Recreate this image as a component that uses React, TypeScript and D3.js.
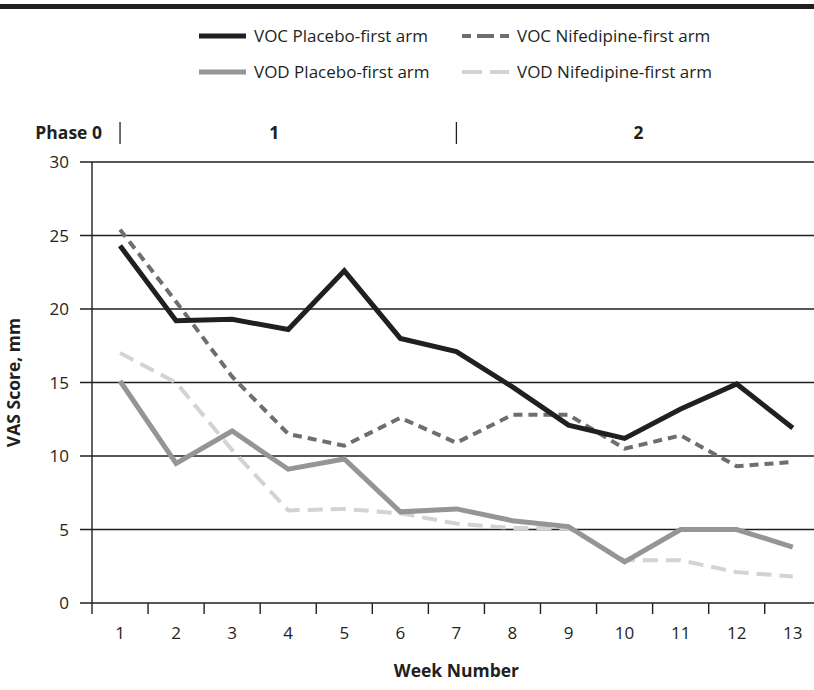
import React from 'react';
import * as d3 from 'd3';

const weeks = ['1', '2', '3', '4', '5', '6', '7', '8', '9', '10', '11', '12', '13'];
const vocPlacebo = [24.3, 19.2, 19.3, 18.6, 22.6, 18.0, 17.1, 14.7, 12.1, 11.2, 13.2, 14.9, 11.9];
const vocNifedipine = [25.4, 20.5, 15.4, 11.5, 10.7, 12.6, 10.9, 12.8, 12.8, 10.5, 11.4, 9.3, 9.6];
const vodPlacebo = [15.1, 9.5, 11.7, 9.1, 9.8, 6.2, 6.4, 5.6, 5.2, 2.8, 5.0, 5.0, 3.8];
const vodNifedipine = [17.0, 15.0, 10.4, 6.3, 6.4, 6.1, 5.4, 5.1, 5.1, 2.9, 2.9, 2.1, 1.8];
const yTicks = [0, 5, 10, 15, 20, 25, 30];
const seriesNames = ['VOC Placebo-first arm', 'VOC Nifedipine-first arm', 'VOD Placebo-first arm', 'VOD Nifedipine-first arm'];
const phaseLabels = ['Phase 0', '1', '2'];
const phaseBoundaryWeeks = ['1', '7'];

const W = 814;
const H = 690;
const FONT = "'Open Sans', 'Noto Sans', sans-serif";
const INK = '#231f20';

const styles = [
  { color: '#231f20', width: 5, dash: 'none', legendDash: 'none' },
  { color: '#6d6e71', width: 4, dash: '9,6', legendDash: '9,6,17,6,9' },
  { color: '#939598', width: 5, dash: 'none', legendDash: 'none' },
  { color: '#d1d3d4', width: 4, dash: '15,8', legendDash: '20,8' },
];

export default function App() {
  const x = d3.scaleBand<string>().domain(weeks).range([92, 820.8]).padding(0);
  const y = d3.scaleLinear().domain([0, 30]).range([603, 162]);
  const bw = x.bandwidth();
  const cx = (w: string) => (x(w) as number) + bw / 2;
  const line = d3
    .line<number>()
    .x((_, i) => cx(weeks[i]))
    .y((d) => y(d))
    .curve(d3.curveLinear);
  const data = [vocPlacebo, vocNifedipine, vodPlacebo, vodNifedipine];

  const div1 = cx(phaseBoundaryWeeks[0]);
  const div2 = cx(phaseBoundaryWeeks[1]);
  const [r0, r1] = x.range();

  const legendPos = [
    { x: 199, y: 36 },
    { x: 462, y: 36 },
    { x: 199, y: 72 },
    { x: 462, y: 72 },
  ];

  return (
    <svg width={W} height={H} style={{ position: 'absolute', left: 0, top: 0, background: '#fff' }} fontFamily={FONT}>
      <rect x={0} y={0} width={W} height={H} fill="#fff" />
      <rect x={0} y={4} width={W} height={5} fill={INK} />

      {/* legend */}
      {seriesNames.map((name, i) => (
        <g key={name}>
          <line
            x1={legendPos[i].x}
            x2={legendPos[i].x + 47}
            y1={legendPos[i].y}
            y2={legendPos[i].y}
            stroke={styles[i].color}
            strokeWidth={styles[i].width}
            strokeDasharray={styles[i].legendDash}
          />
          <text x={legendPos[i].x + 55} y={legendPos[i].y + 6} fontSize={17} fill={INK}>
            {name}
          </text>
        </g>
      ))}

      {/* phase header */}
      <text x={div1 - 18} y={139} fontSize={17.5} fontWeight={700} textAnchor="end" fill={INK}>
        {phaseLabels[0]}
      </text>
      <line x1={div1} x2={div1} y1={122} y2={144} stroke={INK} strokeWidth={1.3} />
      <text x={(r0 + div2) / 2} y={139} fontSize={17.5} fontWeight={700} textAnchor="middle" fill={INK}>
        {phaseLabels[1]}
      </text>
      <line x1={div2} x2={div2} y1={122} y2={144} stroke={INK} strokeWidth={1.3} />
      <text x={(div2 + r1) / 2} y={139} fontSize={17.5} fontWeight={700} textAnchor="middle" fill={INK}>
        {phaseLabels[2]}
      </text>

      {/* gridlines and y ticks */}
      {yTicks.map((t) => (
        <g key={t}>
          <line x1={80} x2={W} y1={y(t)} y2={y(t)} stroke={INK} strokeWidth={1.4} />
          <text x={69} y={y(t) + 6} fontSize={17} textAnchor="end" fill={INK}>
            {t}
          </text>
        </g>
      ))}
      <line x1={92} x2={92} y1={y(30)} y2={y(0)} stroke={INK} strokeWidth={1.4} />

      {/* x ticks */}
      {weeks.map((w) => (
        <g key={w}>
          <line x1={x(w)} x2={x(w)} y1={y(0)} y2={y(0) + 11} stroke={INK} strokeWidth={1.4} />
          <text x={cx(w)} y={639} fontSize={17} textAnchor="middle" fill={INK}>
            {w}
          </text>
        </g>
      ))}

      {/* axis titles */}
      <text x={(r0 + r1) / 2} y={677} fontSize={17.5} fontWeight={700} textAnchor="middle" fill={INK}>
        Week Number
      </text>
      <text
        transform={`translate(20, ${(y(0) + y(30)) / 2}) rotate(-90)`}
        fontSize={17.5}
        fontWeight={700}
        textAnchor="middle"
        fill={INK}
      >
        VAS Score, mm
      </text>

      {/* series lines (draw lighter first) */}
      {[3, 2, 1, 0].map((i) => (
        <path
          key={i}
          d={line(data[i]) as string}
          fill="none"
          stroke={styles[i].color}
          strokeWidth={styles[i].width}
          strokeDasharray={styles[i].dash}
          strokeLinejoin="miter"
        />
      ))}
    </svg>
  );
}
